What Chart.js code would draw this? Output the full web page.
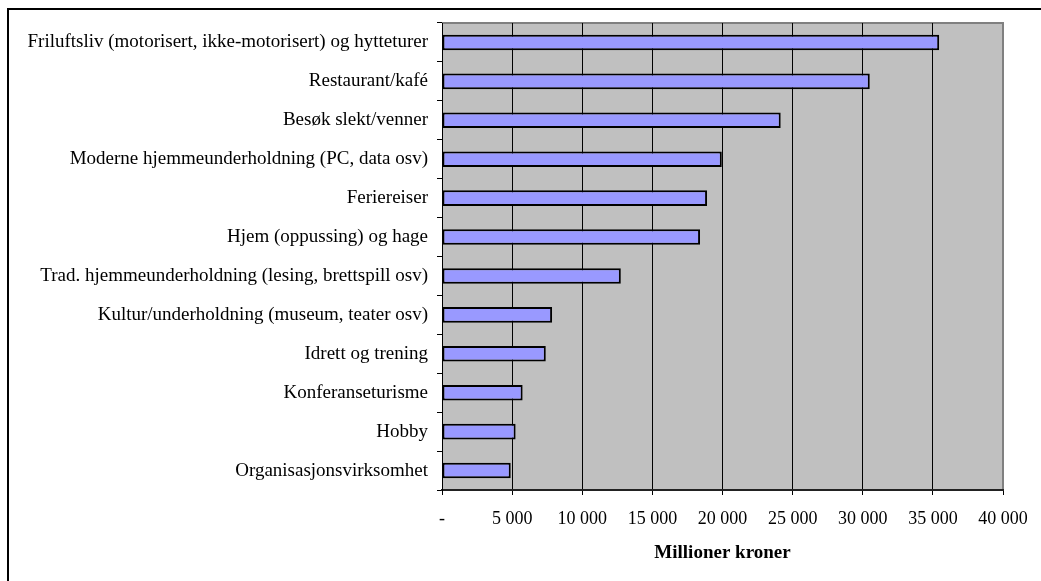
<!DOCTYPE html>
<html>
<head>
<meta charset="utf-8">
<script src="https://cdn.jsdelivr.net/npm/chart.js@4/dist/chart.umd.min.js"></script>
<style>
    html, body { margin: 0; padding: 0; background: #fff; overflow: hidden; }
    #frame {
        position: absolute; left: 7px; top: 8px;
        width: 1100px; height: 700px;
        border: 2px solid #000;
    }
    #wrap { position: absolute; left: 0; top: 0; width: 1041px; height: 581px; }
</style>
</head>
<body>
<div id="frame"></div>
<div id="wrap"><canvas id="chart"></canvas></div>
<script>
// data
const categories = [
    "Friluftsliv (motorisert, ikke-motorisert) og hytteturer",
    "Restaurant/kafé",
    "Besøk slekt/venner",
    "Moderne hjemmeunderholdning (PC, data osv)",
    "Feriereiser",
    "Hjem (oppussing) og hage",
    "Trad. hjemmeunderholdning (lesing, brettspill osv)",
    "Kultur/underholdning (museum, teater osv)",
    "Idrett og trening",
    "Konferanseturisme",
    "Hobby",
    "Organisasjonsvirksomhet"
];
const values = [35450, 30500, 24150, 19950, 18900, 18400, 12750, 7850, 7400, 5750, 5250, 4900];
const xTickLabels = ["-", "5 000", "10 000", "15 000", "20 000", "25 000", "30 000", "35 000", "40 000"];
const axisTitle = "Millioner kroner";

// grey plot background + grey frame on top/right
const plotArea = {
    id: "plotArea",
    beforeDraw(chart) {
        const {ctx, chartArea: a} = chart;
        ctx.save();
        ctx.fillStyle = "#C0C0C0";
        ctx.fillRect(a.left, a.top, a.right - a.left, a.bottom - a.top);
        ctx.strokeStyle = "#808080";
        ctx.lineWidth = 2;
        ctx.beginPath();
        ctx.moveTo(a.left, a.top);
        ctx.lineTo(a.right, a.top);
        ctx.lineTo(a.right, a.bottom);
        ctx.stroke();
        ctx.restore();
    }
};

Chart.defaults.font.family = "'Liberation Serif', 'Times New Roman', serif";
Chart.defaults.font.size = 19;
Chart.defaults.color = "#000";

new Chart(document.getElementById("chart"), {
    type: "bar",
    data: {
        labels: categories,
        datasets: [{
            data: values,
            backgroundColor: "#9999FF",
            borderColor: "#000",
            borderWidth: 2,
            borderSkipped: false,
            barPercentage: 0.4,
            categoryPercentage: 1
        }]
    },
    options: {
        indexAxis: "y",
        responsive: true,
        maintainAspectRatio: false,
        animation: false,
        devicePixelRatio: 1,
        layout: { padding: { top: 23, right: 38, left: 0, bottom: 0 } },
        plugins: {
            legend: { display: false },
            tooltip: { enabled: false }
        },
        scales: {
            x: {
                min: 0,
                max: 40000,
                ticks: {
                    stepSize: 5000,
                    padding: 13,
                    maxRotation: 0,
                    font: { size: 18 },
                    callback: (v, i) => xTickLabels[i]
                },
                grid: {
                    color: (c) => c.index === xTickLabels.length - 1 ? "#808080" : "#000",
                    lineWidth: 1,
                    tickLength: 5,
                    tickColor: "#000"
                },
                border: { color: "#222", width: 2 },
                title: {
                    display: true,
                    text: axisTitle,
                    font: { size: 19, weight: "bold" },
                    padding: { top: 0, bottom: 17 }
                },
                afterFit(scale) { scale.height = 91; }
            },
            y: {
                ticks: { padding: 9, autoSkip: false },
                grid: {
                    drawOnChartArea: false,
                    tickLength: 5,
                    color: "#000",
                    offset: true
                },
                border: { color: "#000", width: 1 },
                afterFit(scale) { scale.width = 442; }
            }
        }
    },
    plugins: [plotArea]
});
</script>
</body>
</html>
